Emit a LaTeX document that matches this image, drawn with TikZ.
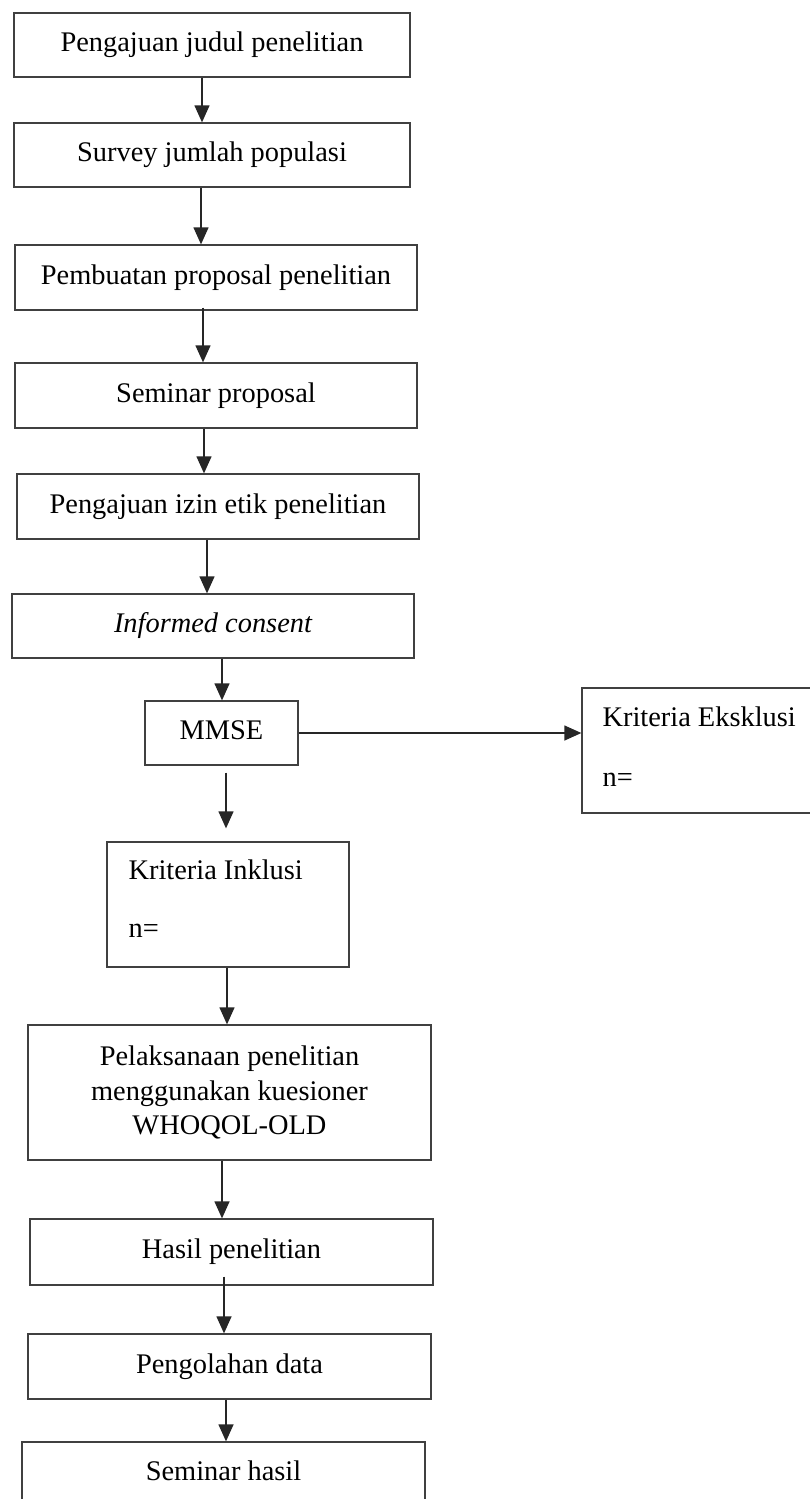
\documentclass[tikz,border=0pt]{standalone}
\usepackage{fontspec}
\setmainfont{Liberation Serif}
\usetikzlibrary{arrows.meta}
\begin{document}
\begin{tikzpicture}[x=1pt,y=-1pt,
  every node/.style={font=\fontsize{28.4pt}{34.5pt}\selectfont, inner sep=0pt},
  box/.style={draw=black!75, line width=1.3pt, text height=19pt, text depth=6pt, align=center},
  emptybox/.style={draw=black!75, line width=1.3pt},
  lbl/.style={anchor=base west},
  arr/.style={draw=black!85, line width=1.3pt, -{Triangle[length=17pt,width=15pt]}}]
\useasboundingbox (0,0) rectangle (810,1499);
\fill[white] (0,0) rectangle (810,1499);
\node[box, minimum width=396pt, minimum height=64pt] (b1) at (212,45) {Pengajuan judul penelitian};
\node[box, minimum width=396pt, minimum height=64pt] (b2) at (212,155) {Survey jumlah populasi};
\node[box, minimum width=402pt, minimum height=65pt] (b3) at (216,277.5) {Pembuatan proposal penelitian};
\node[box, minimum width=402pt, minimum height=65pt] (b4) at (216,395.5) {Seminar proposal};
\node[box, minimum width=402pt, minimum height=65pt] (b5) at (218,506.5) {Pengajuan izin etik penelitian};
\node[box, minimum width=402pt, minimum height=64pt] (b6) at (213,626) {\itshape Informed consent};
\node[box, minimum width=153pt, minimum height=64pt] (mmse) at (221.5,733) {MMSE};
\node[emptybox, minimum width=248pt, minimum height=125pt] (eks) at (706,750.5) {};
\node[lbl] (eks1) at ([xshift=21pt,yshift=-39pt]eks.north west) {Kriteria Eksklusi};
\node[lbl] (eks2) at ([xshift=21pt,yshift=-99pt]eks.north west) {n=};
\node[emptybox, minimum width=242pt, minimum height=125pt] (ink) at (228,904.5) {};
\node[lbl] (ink1) at ([xshift=22pt,yshift=-38pt]ink.north west) {Kriteria Inklusi};
\node[lbl] (ink2) at ([xshift=22pt,yshift=-96pt]ink.north west) {n=};
\node[draw=black!75, line width=1.3pt, align=center, minimum width=403pt, minimum height=135pt] (pel) at (229.5,1092.5) {Pelaksanaan penelitian\\menggunakan kuesioner\\WHOQOL-OLD};
\node[box, minimum width=403pt, minimum height=66pt] (has) at (231.5,1252) {Hasil penelitian};
\node[box, minimum width=403pt, minimum height=65pt] (peng) at (229.5,1366.5) {Pengolahan data};
\node[box, minimum width=403pt, minimum height=64pt] (sem) at (223.5,1474) {Seminar hasil};
\draw[arr] ([xshift=-10pt]b1.south) -- ([xshift=-10pt]b1.south |- b2.north);
\draw[arr] ([xshift=-11pt]b2.south) -- ([xshift=-11pt]b2.south |- b3.north);
\draw[arr] ([xshift=-13pt,yshift=3pt]b3.south) -- ([xshift=-13pt]b3.south |- b4.north);
\draw[arr] ([xshift=-12pt]b4.south) -- ([xshift=-12pt]b4.south |- b5.north);
\draw[arr] ([xshift=-11pt]b5.south) -- ([xshift=-11pt]b5.south |- b6.north);
\draw[arr] ([xshift=9pt]b6.south) -- ([xshift=9pt]b6.south |- mmse.north);
\draw[arr] (mmse.east) -- (mmse.east -| eks.west);
\draw[arr, shorten >=13pt] ([xshift=4.5pt,yshift=-7pt]mmse.south) -- ([xshift=4.5pt]mmse.south |- ink.north);
\draw[arr] ([xshift=-1pt]ink.south) -- ([xshift=-1pt]ink.south |- pel.north);
\draw[arr] ([xshift=-7.5pt]pel.south) -- ([xshift=-7.5pt]pel.south |- has.north);
\draw[arr] ([xshift=-7.5pt,yshift=9pt]has.south) -- ([xshift=-7.5pt]has.south |- peng.north);
\draw[arr] ([xshift=-3.5pt]peng.south) -- ([xshift=-3.5pt]peng.south |- sem.north);
\end{tikzpicture}
\end{document}
